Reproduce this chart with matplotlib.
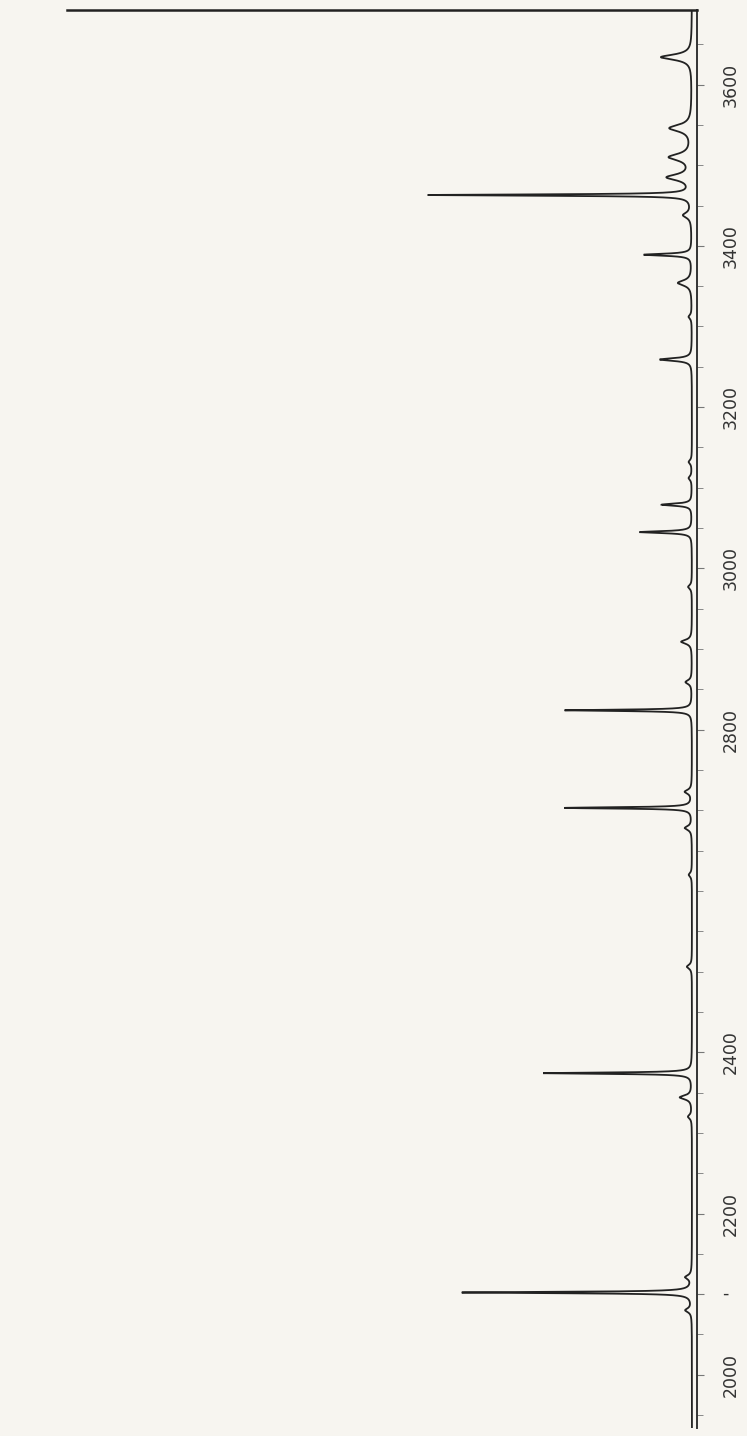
import numpy as np
import matplotlib
matplotlib.use("Agg")
import matplotlib.pyplot as plt
from matplotlib.ticker import MultipleLocator

# ---- data ----
# peak positions (cm^-1), relative heights (% of full scale), half-widths (cm^-1)
peak_wavenumber = [3634, 3546, 3510, 3485, 3463, 3438, 3389, 3354, 3312, 3259,
                   3132, 3112, 3079, 3045, 2977, 2909, 2859, 2824, 2723, 2703,
                   2678, 2620, 2506, 2374, 2344, 2320, 2121, 2102, 2080]
peak_height = [4.9, 3.5, 3.5, 3.8, 41.7, 1.3, 7.6, 2.2, 0.5, 5.1,
               0.5, 0.5, 4.8, 8.3, 0.6, 1.7, 1.0, 20.2, 1.1, 20.2,
               1.1, 0.5, 0.8, 23.6, 1.9, 0.6, 1.0, 36.5, 1.0]
peak_width = [4.0, 5.0, 5.0, 4.5, 1.0, 4.0, 1.5, 4.0, 3.0, 2.0,
              3.0, 3.0, 1.6, 1.4, 3.0, 3.0, 3.0, 1.0, 3.0, 1.0,
              3.0, 3.0, 3.0, 1.0, 3.0, 3.0, 3.0, 1.0, 3.0]

tick_values = [2000, 2100, 2200, 2400, 2800, 3000, 3200, 3400, 3600]
tick_labels = ["2000", "-", "2200", "2400", "2800", "3000", "3200", "3400", "3600"]

wn_min, wn_max = 1934, 3692.5

# ---- build spectrum trace from the read peaks ----
wn = np.linspace(wn_min, wn_max, 30000)
inten = np.zeros_like(wn)
for c, h, g in zip(peak_wavenumber, peak_height, peak_width):
    inten += h * g**2 / ((wn - c)**2 + g**2)

paper = "#f7f5f0"
fig = plt.figure(figsize=(7.47, 14.36), dpi=100, facecolor=paper)
ax = fig.add_axes([67/747, 1 - 1428/1436, (697-67)/747, (1428-10)/1436])
ax.set_facecolor(paper)

ax.plot(inten, wn, color="#222222", lw=1.3, solid_joinstyle="miter")

ax.set_xlim(99.2, -0.8)
ax.set_ylim(wn_min, wn_max)

for s in ["left", "bottom"]:
    ax.spines[s].set_visible(False)
ax.spines["right"].set_color("#333333")
ax.spines["right"].set_linewidth(1.4)
ax.spines["top"].set_color("#222222")
ax.spines["top"].set_linewidth(1.8)

ax.set_xticks([])
ax.yaxis.tick_right()
ax.set_yticks(tick_values)
ax.set_yticklabels(tick_labels, rotation=90, va="center", ha="left",
                   fontsize=12.5, color="#333333", family="DejaVu Sans")
for lbl in ax.get_yticklabels():
    if lbl.get_text() == "-":
        lbl.set_rotation(0)
ax.yaxis.set_minor_locator(MultipleLocator(50))
ax.tick_params(axis="y", which="major", direction="out", length=5, width=0.8,
               color="#777777", pad=13)
ax.tick_params(axis="y", which="minor", direction="out", length=4, width=0.7,
               color="#888888")

fig.savefig("out.png", dpi=100, facecolor=paper)
